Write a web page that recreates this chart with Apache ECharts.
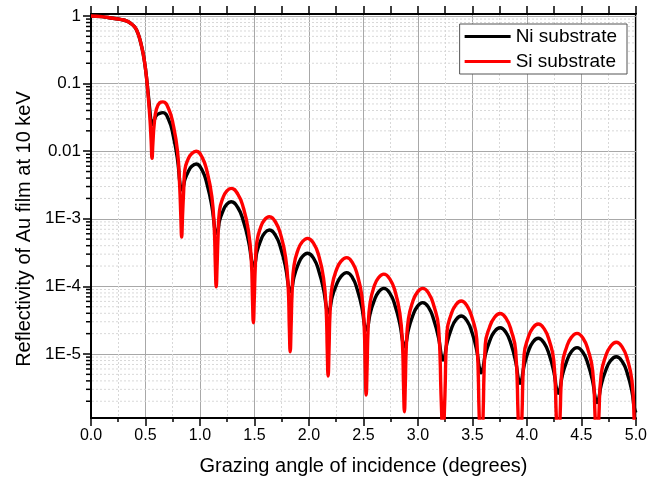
<!DOCTYPE html>
<html><head><meta charset="utf-8">
<script src="https://cdn.jsdelivr.net/npm/echarts@6/dist/echarts.min.js"></script>
<style>html,body{margin:0;padding:0;background:#fff}#c{width:650px;height:485px}</style>
</head><body><div id="c"></div>
<script>
// Grazing angle (degrees)
const angles = [0,0.1,0.2,0.27,0.33,0.37,0.40,0.42,0.44,0.46,0.48,0.50,0.52,0.54,0.552,0.56,0.568,0.58,0.60,0.63,0.66,0.712,0.755,0.794,0.814,0.824,0.832,0.84,0.85,0.861,0.892,0.925,0.965,1.020,1.066,1.109,1.131,1.141,1.149,1.157,1.167,1.179,1.211,1.245,1.286,1.347,1.398,1.445,1.472,1.482,1.49,1.498,1.508,1.522,1.556,1.592,1.636,1.694,1.742,1.786,1.810,1.820,1.828,1.836,1.846,1.863,1.900,1.939,1.987,2.044,2.091,2.134,2.158,2.168,2.176,2.184,2.194,2.213,2.253,2.295,2.346,2.400,2.444,2.486,2.507,2.517,2.525,2.533,2.543,2.561,2.598,2.638,2.687,2.744,2.791,2.834,2.858,2.868,2.876,2.884,2.894,2.913,2.952,2.994,3.044,3.100,3.146,3.189,3.212,3.222,3.23,3.238,3.248,3.267,3.305,3.347,3.397,3.452,3.498,3.540,3.562,3.572,3.58,3.588,3.598,3.618,3.658,3.702,3.754,3.809,3.855,3.897,3.919,3.929,3.937,3.945,3.955,3.974,4.012,4.054,4.104,4.159,4.205,4.247,4.269,4.279,4.287,4.295,4.305,4.325,4.365,4.408,4.46,4.515,4.561,4.603,4.625,4.635,4.643,4.651,4.661,4.682,4.723,4.767,4.82,4.876,4.922,4.964,4.985,5.0];
// Reflectivity, Au film on Ni substrate (black)
const niValues = [1,0.98,0.925,0.89,0.84,0.767,0.69,0.61,0.50,0.38,0.269,0.166,0.085,0.040,0.0269,0.0245,0.0257,0.0288,0.0339,0.0363,0.0372,0.0293,0.0169,7.50e-3,3.59e-3,2.82e-3,2.69e-3,2.82e-3,3.09e-3,3.78e-3,4.97e-3,5.97e-3,6.46e-3,5.22e-3,3.18e-3,1.53e-3,8.13e-4,6.38e-4,6.10e-4,6.38e-4,6.87e-4,9.29e-4,1.30e-3,1.63e-3,1.79e-3,1.47e-3,9.27e-4,4.70e-4,2.54e-4,2.09e-4,2.0e-4,2.09e-4,2.29e-4,3.22e-4,4.72e-4,6.11e-4,6.82e-4,5.65e-4,3.63e-4,1.90e-4,1.05e-4,8.75e-5,8.36e-5,8.75e-5,9.64e-5,1.39e-4,2.09e-4,2.75e-4,3.09e-4,2.58e-4,1.68e-4,9.0e-5,5.11e-5,4.28e-5,4.08e-5,4.28e-5,4.74e-5,6.95e-5,1.06e-4,1.41e-4,1.60e-4,1.34e-4,8.89e-5,4.85e-5,2.81e-5,2.37e-5,2.26e-5,2.37e-5,2.65e-5,3.94e-5,6.10e-5,8.22e-5,9.33e-5,7.80e-5,5.14e-5,2.78e-5,1.60e-5,1.34e-5,1.28e-5,1.34e-5,1.51e-5,2.30e-5,3.66e-5,5.02e-5,5.75e-5,4.82e-5,3.18e-5,1.74e-5,1.01e-5,8.51e-6,8.13e-6,8.51e-6,9.59e-6,1.46e-5,2.32e-5,3.18e-5,3.65e-5,3.06e-5,2.04e-5,1.12e-5,6.53e-6,5.53e-6,5.28e-6,5.53e-6,6.25e-6,9.62e-6,1.55e-5,2.14e-5,2.45e-5,2.07e-5,1.39e-5,7.71e-6,4.53e-6,3.85e-6,3.68e-6,3.85e-6,4.36e-6,6.70e-6,1.08e-5,1.49e-5,1.71e-5,1.44e-5,9.73e-6,5.46e-6,3.23e-6,2.75e-6,2.63e-6,2.75e-6,3.12e-6,4.81e-6,7.78e-6,1.08e-5,1.24e-5,1.05e-5,7.06e-6,3.95e-6,2.34e-6,2.0e-6,1.91e-6,2.0e-6,2.26e-6,3.51e-6,5.70e-6,7.93e-6,9.12e-6,7.67e-6,5.12e-6,2.78e-6,1.62e-6,1.35e-6];
// Reflectivity, Au film on Si substrate (red)
const siValues = [1,0.98,0.925,0.89,0.84,0.767,0.69,0.61,0.50,0.38,0.269,0.166,0.081,0.0316,0.0141,0.00785,0.0132,0.0251,0.0417,0.0519,0.0537,0.0424,0.0244,9.89e-3,2.99e-3,1.11e-3,5.37e-4,1.11e-3,2.51e-3,5.25e-3,7.69e-3,9.25e-3,1.0e-2,8.09e-3,4.92e-3,2.13e-3,7.24e-4,2.05e-4,9.89e-5,2.05e-4,6.12e-4,1.31e-3,2.05e-3,2.56e-3,2.82e-3,2.32e-3,1.46e-3,6.61e-4,2.26e-4,6.28e-5,2.90e-5,6.28e-5,2.04e-4,4.53e-4,7.43e-4,9.62e-4,1.07e-3,8.89e-4,5.71e-4,2.67e-4,9.38e-5,2.45e-5,1.08e-5,2.45e-5,8.59e-5,2.04e-4,3.48e-4,4.57e-4,5.14e-4,4.29e-4,2.80e-4,1.32e-4,4.55e-5,1.12e-5,4.73e-6,1.12e-5,4.23e-5,1.02e-4,1.77e-4,2.36e-4,2.66e-4,2.23e-4,1.48e-4,7.11e-5,2.50e-5,6.0e-6,2.47e-6,6.0e-6,2.36e-5,5.69e-5,9.95e-5,1.34e-4,1.52e-4,1.27e-4,8.39e-5,4.02e-5,1.42e-5,3.40e-6,1.40e-6,3.40e-6,1.35e-5,3.31e-5,5.94e-5,8.15e-5,9.33e-5,7.82e-5,5.16e-5,2.51e-5,2.51e-6,7.94e-7,2.51e-7,7.94e-7,2.51e-6,2.14e-5,3.87e-5,5.31e-5,6.08e-5,5.11e-5,3.40e-5,1.65e-5,1.26e-6,3.98e-7,1.58e-7,3.98e-7,1.26e-6,1.38e-5,2.51e-5,3.47e-5,3.98e-5,3.36e-5,2.25e-5,1.11e-5,1.26e-6,3.98e-7,1.0e-7,3.98e-7,1.26e-6,9.66e-6,1.75e-5,2.42e-5,2.78e-5,2.35e-5,1.58e-5,7.87e-6,1.26e-6,3.98e-7,1.0e-7,3.98e-7,1.26e-6,6.95e-6,1.27e-5,1.76e-5,2.02e-5,1.71e-5,1.15e-5,5.71e-6,1.26e-6,3.98e-7,1.0e-7,3.98e-7,1.26e-6,5.07e-6,9.31e-6,1.29e-5,1.49e-5,1.25e-5,8.36e-6,4.02e-6,1.0e-6,2.5e-7];

const seriesNames = ['Ni substrate', 'Si substrate'];
const yTickValues = [1e-5, 1e-4, 1e-3, 0.01, 0.1, 1];
const yTickLabels = ['1E-5', '1E-4', '1E-3', '0.01', '0.1', '1'];
const xTitle = 'Grazing angle of incidence (degrees)';
const yTitle = 'Reflectivity of Au film at 10 keV';

const Y_MIN = 1.13e-6, Y_MAX = 1.07;
const FONT = '"Liberation Sans", Arial, sans-serif';

// minor decade positions (2..9 x 10^n) for dotted grid + small ticks
const yMinor = [];
for (let e = -6; e <= -1; e++) {
  for (let m = 2; m <= 9; m++) {
    const v = m * Math.pow(10, e);
    if (v > Y_MIN && v < Y_MAX) yMinor.push(v);
  }
}

function yLabel(v) {
  const lg = Math.log10(v);
  const e = Math.round(lg);
  if (Math.abs(lg - e) > 1e-6) return '';
  const i = yTickValues.findIndex(t => Math.round(Math.log10(t)) === e);
  return i >= 0 ? yTickLabels[i] : '';
}

const chart = echarts.init(document.getElementById('c'), null, {renderer: 'canvas'});
chart.setOption({
  animation: false,
  backgroundColor: '#fff',
  textStyle: {fontFamily: FONT},
  grid: {left: 91, right: 12, top: 14, bottom: 67, show: true, borderColor: '#000', borderWidth: 2, backgroundColor: 'transparent'},
  legend: {
    data: seriesNames, orient: 'vertical', right: 23, top: 24,
    padding: [2, 10, 2, 5], itemGap: 4, itemWidth: 46, itemHeight: 3, icon: 'rect',
    backgroundColor: '#fff', borderColor: '#555', borderWidth: 1, borderRadius: 0,
    textStyle: {fontSize: 19, color: '#000', lineHeight: 21, fontFamily: FONT}
  },
  xAxis: [{
    type: 'value', min: 0, max: 5, interval: 0.5, position: 'bottom',
    axisLine: {show: true, onZero: false, lineStyle: {color: '#000', width: 2}},
    axisTick: {show: true, length: 8, lineStyle: {color: '#000', width: 1.5}},
    minorTick: {show: true, splitNumber: 2, length: 4, lineStyle: {color: '#000', width: 1.5}},
    axisLabel: {formatter: v => v.toFixed(1), fontSize: 16, color: '#000', margin: 10, fontFamily: FONT},
    splitLine: {show: true, lineStyle: {color: '#a8a8a8', width: 1}},
    minorSplitLine: {show: true, lineStyle: {color: '#d8d8d8', width: 1, type: [2, 2]}},
    name: xTitle, nameLocation: 'middle', nameGap: 38,
    nameTextStyle: {fontSize: 20, color: '#000', fontFamily: FONT}
  }, {
    type: 'value', min: 0, max: 5, interval: 0.25, position: 'top',
    axisLine: {show: true, onZero: false, lineStyle: {color: '#000', width: 2}},
    axisTick: {show: true, length: 8, lineStyle: {color: '#000', width: 1.5}},
    axisLabel: {show: false}, splitLine: {show: false}
  }],
  yAxis: {
    type: 'log', logBase: 10, min: Y_MIN, max: Y_MAX,
    axisLine: {show: true, onZero: false, lineStyle: {color: '#000', width: 2}},
    axisTick: {show: true, length: 8, customValues: yTickValues, lineStyle: {color: '#000', width: 1.5}},
    axisLabel: {customValues: yTickValues, formatter: yLabel, fontSize: 17, color: '#000', margin: 10, fontFamily: FONT},
    splitLine: {show: true, lineStyle: {color: '#a8a8a8', width: 1}},
    name: yTitle, nameLocation: 'middle', nameGap: 56,
    nameTextStyle: {fontSize: 20, color: '#000', fontFamily: FONT, padding: [0, 26, 0, 0]}
  },
  series: [{
    type: 'custom', silent: true, z: 1, clip: false,
    data: yMinor.map(v => [0, v]),
    renderItem: (params, api) => {
      const v = api.value(1);
      const a = api.coord([0, v]);
      const b = api.coord([5, v]);
      return {type: 'group', children: [
        {type: 'line', shape: {x1: a[0] + 1, y1: a[1], x2: b[0] - 1, y2: b[1]}, style: {stroke: '#d8d8d8', lineWidth: 1, lineDash: [2, 2]}},
        {type: 'line', shape: {x1: a[0] - 5, y1: a[1], x2: a[0], y2: a[1]}, style: {stroke: '#000', lineWidth: 1.5}}
      ]};
    }
  }, {
    name: seriesNames[0], type: 'line', z: 3, showSymbol: false, symbol: 'none',
    smooth: 0.5,
    lineStyle: {color: '#000', width: 3.4, join: 'round'}, itemStyle: {color: '#000'},
    data: angles.map((a, i) => [a, niValues[i]])
  }, {
    name: seriesNames[1], type: 'line', z: 4, showSymbol: false, symbol: 'none',
    smooth: 0.5,
    lineStyle: {color: '#ff0000', width: 3.4, join: 'round'}, itemStyle: {color: '#ff0000'},
    data: angles.map((a, i) => [a, siValues[i]])
  }]
});
</script>
</body></html>
